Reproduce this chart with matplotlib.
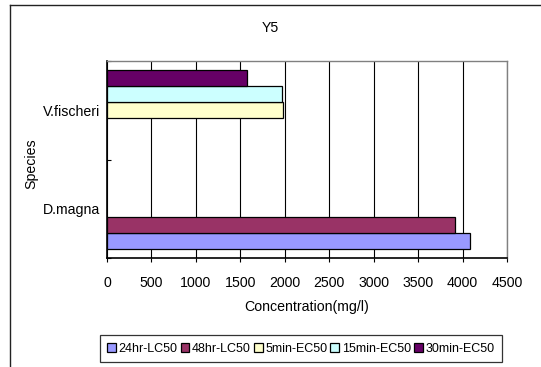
import matplotlib
matplotlib.use("Agg")
import matplotlib.pyplot as plt
from matplotlib.lines import Line2D
import numpy as np

# --- data -------------------------------------------------------------
species = ["D.magna", "V.fischeri"]
series_names = ["24hr-LC50", "48hr-LC50", "5min-EC50", "15min-EC50", "30min-EC50"]
lc50_24hr = [4080, None]
lc50_48hr = [3920, None]
ec50_5min = [None, 1980]
ec50_15min = [None, 1970]
ec50_30min = [None, 1570]
series_values = [lc50_24hr, lc50_48hr, ec50_5min, ec50_15min, ec50_30min]
x_ticks = [0, 500, 1000, 1500, 2000, 2500, 3000, 3500, 4000, 4500]

colors = ["#9999FF", "#993366", "#FFFFCC", "#CCFFFF", "#660066"]

plt.rcParams['font.family'] = ['Liberation Sans', 'DejaVu Sans']
FS = 10.2
LEG_FS = 9.0

W, H = 541, 367
fig = plt.figure(figsize=(W / 100, H / 100), dpi=100)
fig.patch.set_facecolor("white")

# outer chart frame (left and top edges visible)
fig.add_artist(Line2D([10 / W, 10 / W], [0, 1 - 5 / H], transform=fig.transFigure,
                      color="#222222", lw=1.0))
fig.add_artist(Line2D([10 / W, 1], [1 - 5 / H, 1 - 5 / H], transform=fig.transFigure,
                      color="#222222", lw=1.0))

left, right, top, bottom = 107, 507, 61, 258
ax = fig.add_axes([left / W, 1 - bottom / H, (right - left) / W, (bottom - top) / H])

y = np.arange(len(species))
slot = 0.1624
n = len(series_names)
for k, (name, vals, c) in enumerate(zip(series_names, series_values, colors)):
    offs = (k - (n - 1) / 2) * slot
    ys = [yy + offs for yy, v in zip(y, vals) if v is not None]
    vs = [v for v in vals if v is not None]
    ax.barh(ys, vs, height=slot, color=c, edgecolor="black", linewidth=0.9,
            zorder=3, label=name)

ax.set_xlim(0, 4500)
ax.set_ylim(-0.5, len(species) - 0.5)
ax.set_xticks(x_ticks)
ax.set_xticklabels([str(t) for t in x_ticks], fontsize=FS)
ax.tick_params(axis="x", length=3, width=0.8, pad=10, direction="out")
ax.xaxis.grid(True, color="black", lw=0.8, zorder=0)
ax.set_axisbelow(True)

ax.set_yticks(y)
ax.set_yticklabels(species, fontsize=FS)
ax.tick_params(axis="y", which="major", length=0, pad=5)
ax.set_yticks([-0.5, 0.5, 1.5], minor=True)
ax.tick_params(axis="y", which="minor", length=3, width=0.8, direction="in")

for s in ("top", "right"):
    ax.spines[s].set_color("#808080")
    ax.spines[s].set_linewidth(1.0)
for s in ("left", "bottom"):
    ax.spines[s].set_color("black")
    ax.spines[s].set_linewidth(1.2)

fig.text(270.7 / W, 1 - 28 / H, "Y5", ha="center", va="center", fontsize=FS)
fig.text(307 / W, 1 - 307 / H, "Concentration(mg/l)", ha="center", va="center", fontsize=FS)
fig.text(31 / W, 1 - 164 / H, "Species", ha="center", va="center", rotation=90, fontsize=FS)

handles, labels = ax.get_legend_handles_labels()
leg = fig.legend(handles, labels, loc="center", ncol=5,
                 bbox_to_anchor=(((100.7 + 501) / 2) / W, 1 - 348.5 / H),
                 fontsize=LEG_FS, frameon=True, fancybox=False, edgecolor="black",
                 handlelength=0.7, handleheight=0.7, handletextpad=0.2,
                 columnspacing=0.25, borderpad=0.6, borderaxespad=0)
leg.get_frame().set_linewidth(0.9)

fig.savefig("out.png", dpi=100, facecolor="white")
